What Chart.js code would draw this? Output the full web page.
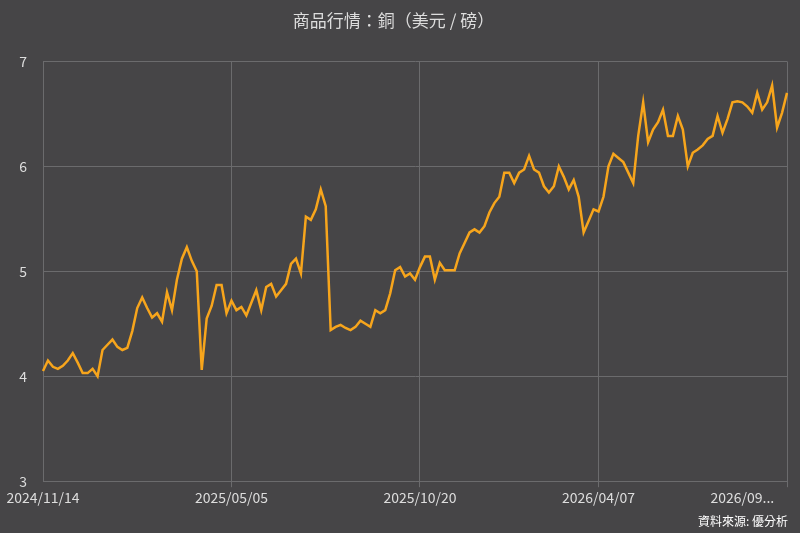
<!DOCTYPE html>
<html>
<head>
<meta charset="utf-8">
<script src="https://cdn.jsdelivr.net/npm/chart.js@4.4.1/dist/chart.umd.min.js"></script>
<style>
  body{margin:0;background:#464547;}
  #wrap{position:relative;width:800px;height:533px;}
  #src{position:absolute;right:12px;bottom:4px;color:#fff;font:12px "Noto Sans CJK TC",sans-serif;}
</style>
</head>
<body>
<div id="wrap">
  <canvas id="chart" width="800" height="533"></canvas>
  <div id="src">資料來源: 優分析</div>
</div>
<script>
// 銅價（美元/磅）
const prices = [
  4.05,4.15,4.09,4.07,4.10,4.15,4.22,4.13,4.03,4.03,
  4.07,4.00,4.25,4.30,4.35,4.28,4.25,4.27,4.43,4.65,
  4.75,4.65,4.56,4.60,4.52,4.80,4.63,4.92,5.12,5.23,
  5.10,5.00,4.06,4.55,4.67,4.87,4.87,4.60,4.72,4.63,
  4.66,4.58,4.70,4.82,4.63,4.85,4.88,4.76,4.82,4.88,
  5.07,5.12,4.98,5.52,5.49,5.59,5.78,5.62,4.44,4.47,
  4.49,4.46,4.44,4.47,4.53,4.50,4.47,4.63,4.60,4.63,
  4.79,5.01,5.04,4.95,4.98,4.92,5.04,5.14,5.14,4.92,
  5.08,5.01,5.01,5.01,5.17,5.27,5.37,5.40,5.37,5.43,
  5.56,5.65,5.71,5.94,5.94,5.84,5.94,5.97,6.10,5.97,
  5.94,5.81,5.75,5.81,6.00,5.90,5.78,5.87,5.71,5.37,
  5.48,5.59,5.57,5.71,6.00,6.12,6.08,6.04,5.94,5.84,
  6.29,6.61,6.23,6.35,6.42,6.54,6.29,6.29,6.48,6.35,
  6.00,6.13,6.16,6.20,6.26,6.29,6.48,6.32,6.45,6.61,
  6.62,6.61,6.57,6.51,6.70,6.54,6.61,6.77,6.37,6.51,
  6.70
];
// 軸標籤位置
const tickLabels = {0:'2024/11/14', 38:'2025/05/05', 76:'2025/10/20', 112:'2026/04/07', 141:'2026/09...'};
const gridIdx = [38, 76, 112, 150];
const labels = prices.map((_, i) => tickLabels[i] || '');
const yTicks = [3, 4, 5, 6, 7];

const txt = '#dddddd';
const grid = '#6b6b6d';
const font = '"Noto Sans CJK TC","Noto Sans",sans-serif';

new Chart(document.getElementById('chart'), {
  type: 'line',
  data: {
    labels: labels,
    datasets: [{
      data: prices,
      borderColor: '#f7a51c',
      borderWidth: 2.5,
      pointRadius: 0,
      tension: 0
    }]
  },
  options: {
    responsive: false,
    animation: false,
    layout: {padding: {left: 0, right: 13, top: 0, bottom: 25}},
    plugins: {
      legend: {display: false},
      tooltip: {enabled: false},
      title: {
        display: true,
        text: '商品行情：銅（美元 / 磅）',
        color: txt,
        font: {family: font, size: 17, weight: 'normal'},
        padding: {top: 10, bottom: 31}
      }
    },
    scales: {
      x: {
        grid: {
          color: ctx => gridIdx.includes(ctx.index) ? grid : 'rgba(0,0,0,0)',
          tickLength: 6
        },
        border: {color: grid},
        ticks: {
          autoSkip: false,
          maxRotation: 0,
          color: txt,
          font: {family: font, size: 14},
          padding: 2,
          callback: (v, i) => labels[i]
        }
      },
      y: {
        min: 3, max: 7,
        afterFit: s => { s.width = 43; },
        afterBuildTicks: s => { s.ticks = yTicks.map(v => ({value: v})); },
        grid: {color: grid, drawTicks: false},
        border: {color: grid},
        ticks: {color: txt, font: {family: font, size: 14}, padding: 16}
      }
    }
  }
});
</script>
</body>
</html>
